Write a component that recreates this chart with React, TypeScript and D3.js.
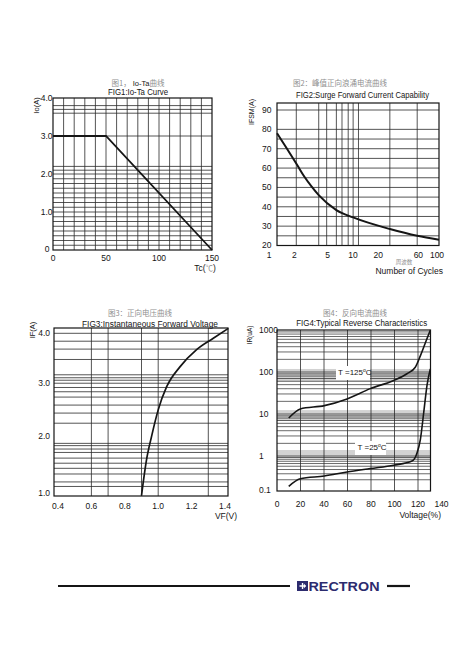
import React from "react";
import * as d3 from "d3";

const W = 474;
const H = 671;
const SANS = "'Liberation Sans', Arial, Helvetica, sans-serif";
const CJK = "'Noto Sans CJK SC', 'Noto Sans CJK JP', sans-serif";
const INK = "#151515";
const GRID = "#2a2a2a";
const GRAY_TEXT = "#8f8f8f";
const NAVY = "#2c2b6e";

// ---------- FIG1: Io-Ta curve ----------
const fig1Temp = [0, 50, 150];
const fig1Current = [3.0, 3.0, 0];
const fig1XTicks = [0, 50, 100, 150];
const fig1XTickLabels = ["0", "50", "100", "150"];
const fig1YTicks = [0, 1, 2, 3, 4];
const fig1YTickLabels = ["0", "1.0", "2.0", "3.0", "4.0"];
const fig1XGrid = [10, 20, 30, 40, 50, 60, 70, 80, 90, 100, 110, 120, 130, 140];
const fig1YGrid = [
  0.125, 0.25, 0.375, 0.5, 0.625, 0.75, 0.875, 1.0, 1.125, 1.25, 1.375, 1.5,
  1.625, 1.75, 1.875, 2.0, 2.1, 2.2, 3.0, 3.6, 3.7, 3.8,
];

// ---------- FIG2: Surge forward current ----------
const fig2Cycles = [1.18, 1.55, 2.05, 2.5, 3.05, 3.7, 6, 9.5, 26, 55, 100];
const fig2Ifsm = [78, 70, 61.6, 55.5, 50.4, 46, 38.3, 34.5, 28.5, 25, 23];
const fig2XTicks = [1, 2, 5, 10, 20, 60, 100];
const fig2XTickLabels = ["1", "2", "5", "10", "20", "60", "100"];
const fig2YTicks = [20, 30, 40, 50, 60, 70, 80, 90];
const fig2YTickLabels = ["20", "30", "40", "50", "60", "70", "80", "90"];
const fig2XGrid = [2, 3.7, 4.6, 6, 7, 8.3, 9.5, 11, 26, 55];
const fig2YGrid = [25, 30, 35, 40, 45, 50, 55, 60, 65, 70, 75, 80, 90];

// ---------- FIG3: Instantaneous forward voltage ----------
const fig3Vf = [0.9, 0.93, 0.96, 1.0, 1.05, 1.13, 1.23, 1.33, 1.42];
const fig3If = [0.95, 1.58, 1.99, 2.49, 2.92, 3.32, 3.67, 3.9, 4.1];
const fig3XTicks = [0.4, 0.6, 0.8, 1.0, 1.2, 1.4];
const fig3XTickLabels = ["0.4", "0.6", "0.8", "1.0", "1.2", "1.4"];
const fig3YTicks = [1, 2, 3, 4];
const fig3YTickLabels = ["1.0", "2.0", "3.0", "4.0"];
const fig3XGrid = [0.6, 0.7, 0.9, 1.0, 1.3];
const fig3YGrid = [
  4.0, 3.84, 3.68, 3.47, 3.16, 3.1, 3.05, 2.99, 2.91, 2.83, 2.73, 2.58, 2.43,
  2.24, 1.87, 1.83, 1.77, 1.71, 1.61, 1.52, 1.43, 1.33, 1.19, 1.11,
];

// ---------- FIG4: Typical reverse characteristics ----------
const fig4V125 = [10, 19.8, 40.3, 59.6, 79.4, 99.3, 110.6, 117.7, 122, 126.2, 130.5];
const fig4I125 = [8.0, 13.2, 15.8, 22.9, 40.2, 63, 91, 130, 242, 490, 1000];
const fig4V25 = [10, 19.8, 40.3, 59.6, 79.4, 99.3, 114.9, 119.1, 122, 124.9, 127.7, 130.5];
const fig4I25 = [0.128, 0.214, 0.257, 0.338, 0.427, 0.537, 0.708, 1.16, 2.46, 11, 49, 119];
const fig4XTicks = [0, 20, 40, 60, 80, 100, 120, 140];
const fig4XTickLabels = ["0", "20", "40", "60", "80", "100", "120", "140"];
const fig4YTicks = [0.1, 1, 10, 100, 1000];
const fig4YTickLabels = ["0.1", "1", "10", "100", "1000"];
const fig4XGrid = [20, 40, 60, 80, 100, 120];
const fig4Decades = [0.1, 1, 10, 100];
const fig4MinorSteps = [1, 2, 3, 4, 5, 6, 7, 8, 9];
const fig4Bands = [
  [61, 118],
  [6.9, 12.4],
  [0.87, 1.39],
];

type Scale = (v: number) => number;

function HGrid({ vals, y, x0, x1, stroke = GRID, w = 0.8 }: { vals: number[]; y: Scale; x0: number; x1: number; stroke?: string; w?: number }) {
  return (
    <g>
      {vals.map((v, i) => (
        <line key={i} x1={x0} x2={x1} y1={y(v)} y2={y(v)} stroke={stroke} strokeWidth={w} />
      ))}
    </g>
  );
}

function VGrid({ vals, x, y0, y1, stroke = GRID, w = 0.8 }: { vals: number[]; x: Scale; y0: number; y1: number; stroke?: string; w?: number }) {
  return (
    <g>
      {vals.map((v, i) => (
        <line key={i} y1={y0} y2={y1} x1={x(v)} x2={x(v)} stroke={stroke} strokeWidth={w} />
      ))}
    </g>
  );
}

function Box({ x0, x1, y0, y1 }: { x0: number; x1: number; y0: number; y1: number }) {
  return <rect x={x0} y={y0} width={x1 - x0} height={y1 - y0} fill="none" stroke={INK} strokeWidth={1.2} />;
}

const tickStyle: React.CSSProperties = { fontFamily: SANS, fontSize: 8.5, fill: INK };

function Fig1() {
  const x0 = 53, x1 = 212, y0 = 98, y1 = 250;
  const x = d3.scaleLinear().domain([0, 150]).range([x0, x1]);
  const y = d3.scaleLinear().domain([0, 4]).range([y1, y0]);
  const line = d3
    .line<number>()
    .x((_, i) => x(fig1Temp[i]))
    .y((d) => y(d));
  return (
    <g>
      <text x={138} y={86} textAnchor="middle" style={{ fontFamily: CJK, fontSize: 7.5, fill: GRAY_TEXT }}>
        图1，
        <tspan style={{ fontFamily: SANS, fill: INK }}> Io-Ta</tspan>
        曲线
      </text>
      <text x={138} y={94.7} textAnchor="middle" textLength={60} lengthAdjust="spacingAndGlyphs" style={{ fontFamily: SANS, fontSize: 8.5, fill: INK }}>
        FIG1:Io-Ta Curve
      </text>
      <VGrid vals={fig1XGrid} x={x} y0={y0} y1={y1} />
      <HGrid vals={fig1YGrid} y={y} x0={x0} x1={x1} />
      <Box x0={x0} x1={x1} y0={y0} y1={y1} />
      <path d={line(fig1Current) || ""} fill="none" stroke={INK} strokeWidth={1.8} />
      {fig1YTicks.map((v, i) => (
        <text key={i} x={i === 0 ? 49.5 : 52.5} y={y(v) + (i === 0 ? 1.5 : 3)} textAnchor="end" style={tickStyle}>
          {fig1YTickLabels[i]}
        </text>
      ))}
      {fig1XTicks.map((v, i) => (
        <text key={i} x={x(v)} y={260.5} textAnchor="middle" style={tickStyle}>
          {fig1XTickLabels[i]}
        </text>
      ))}
      <text transform="translate(38.5,105.5) rotate(-90)" textAnchor="middle" style={{ fontFamily: SANS, fontSize: 7.5, fill: INK }}>
        Io(A)
      </text>
      <text x={205} y={271} textAnchor="middle" style={{ fontFamily: SANS, fontSize: 8.5, fill: INK }}>
        Tc(
        <tspan style={{ fontFamily: CJK, fill: GRAY_TEXT, fontSize: 7.5 }}>℃</tspan>)
      </text>
    </g>
  );
}

function Fig2() {
  const x0 = 277, x1 = 439, y0 = 103, y1 = 245.5;
  const x = d3.scaleLog().domain([1, 100]).range([271, 439]);
  const y = d3.scaleLinear().domain([20, 90]).range([245.5, 110]);
  const line = d3
    .line<number>()
    .x((_, i) => x(fig2Cycles[i]))
    .y((d) => y(d))
    .curve(d3.curveMonotoneX);
  return (
    <g>
      <text x={340} y={86} textAnchor="middle" style={{ fontFamily: CJK, fontSize: 7.5, fill: GRAY_TEXT }}>
        图2：峰值正向浪涌电流曲线
      </text>
      <text x={362.5} y={98} textAnchor="middle" textLength={133} lengthAdjust="spacingAndGlyphs" style={{ fontFamily: SANS, fontSize: 8.5, fill: INK }}>
        FIG2:Surge Forward Current Capability
      </text>
      <VGrid vals={fig2XGrid} x={x} y0={y0} y1={y1} />
      <HGrid vals={fig2YGrid} y={y} x0={x0} x1={x1} />
      <Box x0={x0} x1={x1} y0={y0} y1={y1} />
      <path d={line(fig2Ifsm) || ""} fill="none" stroke={INK} strokeWidth={2} />
      {fig2YTicks.map((v, i) => (
        <text key={i} x={271.5} y={y(v) + (i === 0 ? 2 : 3)} textAnchor="end" style={tickStyle}>
          {fig2YTickLabels[i]}
        </text>
      ))}
      {fig2XTicks.map((v, i) => (
        <text key={i} x={x(v) - 2} y={258} textAnchor="middle" style={tickStyle}>
          {fig2XTickLabels[i]}
        </text>
      ))}
      <text transform="translate(253.5,112) rotate(-90)" textAnchor="middle" style={{ fontFamily: SANS, fontSize: 7, fill: INK }}>
        IFSM(A)
      </text>
      <text x={404} y={264.3} textAnchor="middle" style={{ fontFamily: CJK, fontSize: 5.5, fill: GRAY_TEXT }}>
        周波数
      </text>
      <text x={443} y={273.5} textAnchor="end" style={{ fontFamily: SANS, fontSize: 8.5, fill: INK }}>
        Number of Cycles
      </text>
    </g>
  );
}

function Fig3() {
  const x0 = 54, x1 = 228, y0 = 328, y1 = 496;
  const x = d3.scaleLinear().domain([0.4, 1.4]).range([58, 225]);
  const y = d3.scaleLinear().domain([1, 2, 3, 4]).range([492.7, 436, 382.7, 333.3]);
  const line = d3
    .line<number>()
    .x((_, i) => x(fig3Vf[i]))
    .y((d) => y(d))
    .curve(d3.curveMonotoneX);
  return (
    <g>
      <text x={140} y={316.3} textAnchor="middle" style={{ fontFamily: CJK, fontSize: 7.5, fill: GRAY_TEXT }}>
        图3：正向电压曲线
      </text>
      <text x={150} y={327} textAnchor="middle" textLength={136} lengthAdjust="spacingAndGlyphs" style={{ fontFamily: SANS, fontSize: 8.5, fill: INK }}>
        FIG3:Instantaneous Forward Voltage
      </text>
      <VGrid vals={fig3XGrid} x={x} y0={y0} y1={y1} />
      <HGrid vals={fig3YGrid} y={y} x0={x0} x1={x1} />
      <Box x0={x0} x1={x1} y0={y0} y1={y1} />
      <path d={line(fig3If) || ""} fill="none" stroke={INK} strokeWidth={1.7} />
      {fig3YTicks.map((v, i) => (
        <text key={i} x={50} y={y(v) + 3} textAnchor="end" style={tickStyle}>
          {fig3YTickLabels[i]}
        </text>
      ))}
      {fig3XTicks.map((v, i) => (
        <text key={i} x={x(v)} y={508.5} textAnchor="middle" style={tickStyle}>
          {fig3XTickLabels[i]}
        </text>
      ))}
      <text transform="translate(34.5,330) rotate(-90)" textAnchor="middle" style={{ fontFamily: SANS, fontSize: 7.5, fill: INK }}>
        IF(A)
      </text>
      <text x={226} y={518.5} textAnchor="middle" style={{ fontFamily: SANS, fontSize: 8.5, fill: INK }}>
        VF(V)
      </text>
    </g>
  );
}

function Fig4() {
  const x0 = 277, x1 = 430.5, y0 = 330, y1 = 491;
  const x = d3.scaleLinear().domain([0, 120]).range([277, 418]);
  const y = d3.scaleLog().domain([0.1, 1, 1000]).range([490, 456, 330]);
  const minors: number[] = [];
  fig4Decades.forEach((d) => fig4MinorSteps.forEach((m) => minors.push(d * m)));
  const gridVals = minors.filter((v) => v > 0.1 && v < 1000);
  const l125 = d3
    .line<number>()
    .x((_, i) => x(fig4V125[i]))
    .y((d) => y(d))
    .curve(d3.curveMonotoneX);
  const l25 = d3
    .line<number>()
    .x((_, i) => x(fig4V25[i]))
    .y((d) => y(d))
    .curve(d3.curveMonotoneX);
  return (
    <g>
      <text x={355} y={316.3} textAnchor="middle" style={{ fontFamily: CJK, fontSize: 7.5, fill: GRAY_TEXT }}>
        图4：反向电流曲线
      </text>
      <text x={361.7} y={326.3} textAnchor="middle" textLength={131} lengthAdjust="spacingAndGlyphs" style={{ fontFamily: SANS, fontSize: 8.5, fill: INK }}>
        FIG4:Typical Reverse Characteristics
      </text>
      {fig4Bands.map((b, i) => (
        <rect key={i} x={x0} width={x1 - x0} y={y(b[1])} height={y(b[0]) - y(b[1])} fill="#d2d2d2" />
      ))}
      <VGrid vals={fig4XGrid} x={x} y0={y0} y1={y1} />
      <HGrid vals={gridVals} y={y} x0={x0} x1={x1} w={0.7} />
      <Box x0={x0} x1={x1} y0={y0} y1={y1} />
      <rect x={336} y={366} width={34} height={14} fill="#fff" />
      <text x={338} y={374.5} style={{ fontFamily: SANS, fontSize: 8, fill: INK }}>
        T  =125
        <tspan dy={-2.5} fontSize={5}>o</tspan>
        <tspan dy={2.5}>C</tspan>
      </text>
      <rect x={355} y={441} width={31} height={14} fill="#fff" />
      <text x={357.5} y={449.5} style={{ fontFamily: SANS, fontSize: 8, fill: INK }}>
        T  =25
        <tspan dy={-2.5} fontSize={5}>o</tspan>
        <tspan dy={2.5}>C</tspan>
      </text>
      <path d={l125(fig4I125) || ""} fill="none" stroke={INK} strokeWidth={1.6} />
      <path d={l25(fig4I25) || ""} fill="none" stroke={INK} strokeWidth={1.6} />
      {fig4YTicks.map((v, i) => (
        <text key={i} x={259} y={y(v) + 3} textAnchor="start" style={tickStyle}>
          {fig4YTickLabels[i]}
        </text>
      ))}
      {fig4XTicks.map((v, i) => (
        <text key={i} x={x(v)} y={507} textAnchor="middle" style={tickStyle}>
          {fig4XTickLabels[i]}
        </text>
      ))}
      <text transform="translate(252,335) rotate(-90)" textAnchor="middle" style={{ fontFamily: SANS, fontSize: 6.5, fill: INK }}>
        IR(uA)
      </text>
      <text x={441} y={518} textAnchor="end" style={{ fontFamily: SANS, fontSize: 8.5, fill: INK }}>
        Voltage(%)
      </text>
    </g>
  );
}

function Footer() {
  return (
    <g>
      <line x1={58} x2={290} y1={586} y2={586} stroke={INK} strokeWidth={2.2} />
      <rect x={297} y={581} width={11} height={10} fill={NAVY} />
      <path d="M299.5 586 H305.5 M302.5 583 V589" stroke="#fff" strokeWidth={1.3} />
      <path d="M303.8 583.5 L306 586 L303.8 588.5 Z" fill="#fff" />
      <text x={308.5} y={591} textLength={71} lengthAdjust="spacingAndGlyphs" style={{ fontFamily: SANS, fontSize: 13.5, fontWeight: 700, fill: NAVY }}>
        RECTRON
      </text>
      <line x1={387} x2={410} y1={586} y2={586} stroke={INK} strokeWidth={2.2} />
    </g>
  );
}

export default function App() {
  return (
    <svg width={W} height={H} viewBox={`0 0 ${W} ${H}`} style={{ position: "absolute", left: 0, top: 0, background: "#fff" }}>
      <rect width={W} height={H} fill="#fff" />
      <Fig1 />
      <Fig2 />
      <Fig3 />
      <Fig4 />
      <Footer />
    </svg>
  );
}
